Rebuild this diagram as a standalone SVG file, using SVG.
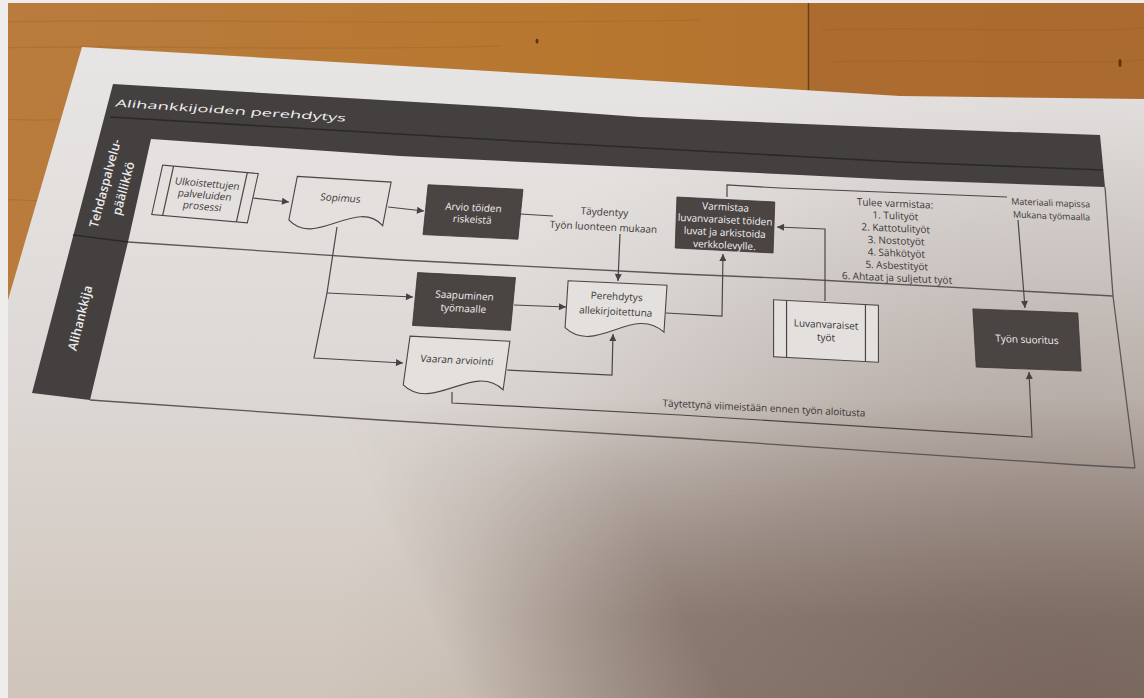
<svg xmlns="http://www.w3.org/2000/svg" width="1144" height="698" viewBox="0 0 1144 698">
<defs>
<linearGradient id="wood" x1="0" y1="0" x2="1" y2="0">
<stop offset="0" stop-color="#B97C3D"/>
<stop offset="0.5" stop-color="#B7772F"/>
<stop offset="1" stop-color="#AE6E31"/>
</linearGradient>
<linearGradient id="paper" gradientUnits="userSpaceOnUse" x1="0" y1="60" x2="0" y2="698">
<stop offset="0" stop-color="#E7E5E4"/>
<stop offset="0.5" stop-color="#DDD8D5"/>
<stop offset="1" stop-color="#CFC4BA"/>
</linearGradient>
<radialGradient id="shadow" gradientUnits="userSpaceOnUse" cx="1080" cy="760" r="760">
<stop offset="0" stop-color="#5A463D" stop-opacity="0.55"/>
<stop offset="0.5" stop-color="#6A564C" stop-opacity="0.3"/>
<stop offset="0.85" stop-color="#6E5A50" stop-opacity="0.05"/>
<stop offset="1" stop-color="#6E5A50" stop-opacity="0"/>
</radialGradient>
<linearGradient id="sh1" gradientUnits="userSpaceOnUse" x1="450" y1="660" x2="660" y2="560">
<stop offset="0" stop-color="#5E4A40" stop-opacity="0"/>
<stop offset="1" stop-color="#5E4A40" stop-opacity="0.5"/>
</linearGradient>
<linearGradient id="mkg" gradientUnits="userSpaceOnUse" x1="0" y1="400" x2="0" y2="620">
<stop offset="0" stop-color="#000"/>
<stop offset="1" stop-color="#fff"/>
</linearGradient>
<mask id="mk" maskUnits="userSpaceOnUse" x="0" y="0" width="1144" height="698">
<rect x="0" y="0" width="1144" height="698" fill="url(#mkg)"/>
</mask>
<marker id="ah" viewBox="0 0 10 10" refX="10" refY="5" markerWidth="8" markerHeight="7" orient="auto" markerUnits="userSpaceOnUse">
<path d="M0,0 L10,5 L0,10 Z" fill="#474242"/>
</marker>
<style>
.ln{fill:none;stroke:#4b4646;stroke-width:1.2}
.brd{fill:none;stroke:#5c5656;stroke-width:1.3}
.dk{fill:#4a4443;stroke:#3c3737;stroke-width:0.8}
.lt{fill:#E3E0DE;stroke:#4b4646;stroke-width:1.1}
.t{font-family:"Open Sans","Liberation Sans",sans-serif;font-size:10px;text-anchor:middle}
.tw{fill:#F3F1F1}
.tb{fill:#3b3636}
.lane{font-family:"Open Sans","Liberation Sans",sans-serif;font-size:12.5px;font-weight:600;fill:#EDEBEB;text-anchor:middle}
</style>
</defs>

<g id="background">
<rect x="0" y="0" width="1144" height="698" fill="url(#wood)"/>
<rect x="808" y="0" width="336" height="110" fill="#A9682E" opacity="0.6"/>
<line x1="808.5" y1="0" x2="808.5" y2="90" stroke="#6B3F18" stroke-width="1.5"/>
<g stroke="#8E5522" stroke-opacity="0.25" stroke-width="1.2" fill="none">
<path d="M0,22 C200,18 400,26 700,20"/>
<path d="M0,48 C150,44 300,52 500,46"/>
<path d="M820,30 C950,26 1050,34 1144,28"/>
<path d="M830,62 C950,58 1050,66 1144,60"/>
<path d="M0,120 C20,118 40,122 60,119"/>
<path d="M0,200 C10,198 25,202 40,200"/>
</g>
<ellipse cx="537" cy="41" rx="1.5" ry="2.5" fill="#5A3412"/>
<ellipse cx="1120" cy="63" rx="1.5" ry="4" fill="#5A3412"/>
<path d="M82,47 L640,80 L900,96 L1144,99 L1144,698 L8,698 L8,300 Z" fill="url(#paper)"/>
<path d="M82,47 L640,80 L900,96 L1144,99 L1144,698 L8,698 L8,300 Z" fill="url(#shadow)"/>
<rect x="8" y="380" width="1136" height="318" fill="url(#sh1)" mask="url(#mk)"/>
<rect x="0" y="0" width="8" height="698" fill="#EFEDEC"/>
<rect x="0" y="0" width="1144" height="3" fill="#EFEDEC"/>
</g>

<g id="lanes">
<path d="M113,84 L500,107 L640,117 L900,128 L1100,135 L1105,187 L900,180 L800,175 L400,156 L151,139 L128,242 L90,400 L32,393 Z" fill="#444040"/>
<path d="M110,117 L500,140 L900,162 L1103,170" fill="none" stroke="#2c2929" stroke-width="1.6"/>
<path d="M73,235 L128,242" fill="none" stroke="#2c2929" stroke-width="1.4"/>
<path class="brd" d="M128,242 L400,260 L680,274 L800,279 L1113,296"/>
<path class="brd" d="M1105,187 L1113,296 L1135,468"/>
<path class="brd" d="M90,400 L380,420 L680,438 L1080,465 L1135,468"/>
<text class="t" transform="translate(230,114) rotate(3.7) skewX(-10)" x="0" y="0" font-size="18.5" fill="#F2F0F0" textLength="231" lengthAdjust="spacingAndGlyphs">Alihankkijoiden perehdytys</text>
<g transform="translate(114.5,186) rotate(-75)">
<text class="lane" x="0" y="-5.5">Tehdaspalvelu-</text>
<text class="lane" x="0" y="13.5">päällikkö</text>
</g>
<text class="lane" transform="translate(80,318) rotate(-76)" x="0" y="4.5">Alihankkija</text>
</g>

<g id="connectors">
<path class="ln" d="M253,198 L289,202" marker-end="url(#ah)"/>
<path class="ln" d="M388,207 L424,211" marker-end="url(#ah)"/>
<path class="ln" d="M520,214 L553,216 M620,234 L618,281" marker-end="url(#ah)"/>
<path class="ln" d="M337,227 L327,293 L314,358 L403,363" marker-end="url(#ah)"/>
<path class="ln" d="M327,293 L413,297" marker-end="url(#ah)"/>
<path class="ln" d="M514,305 L566,307" marker-end="url(#ah)"/>
<path class="ln" d="M507,370 L612,375 L613,334" marker-end="url(#ah)"/>
<path class="ln" d="M666,313 L722,316 L723,254" marker-end="url(#ah)"/>
<path class="ln" d="M825,301 L825,229 L777,227" marker-end="url(#ah)"/>
<path class="ln" d="M727,197 L727,185 L780,188 L1007,197 M1018,220 L1025,308" marker-end="url(#ah)"/>
<path class="ln" d="M452,392 L452,403 L680,415 L1032,437 L1029,372" marker-end="url(#ah)"/>
<g class="t tb">
<text transform="translate(604,220) rotate(2.8) skewX(-1)"><tspan x="0" y="-4.5">Täydentyy</tspan><tspan x="0" y="10.5">Työn luonteen mukaan</tspan></text>
<text transform="translate(764,409) rotate(2.9) skewX(2)" x="0" y="2.5">Täytettynä viimeistään ennen työn aloitusta</text>
<text transform="translate(1051,209) rotate(2.2) skewX(6)" font-size="9"><tspan x="0" y="-3">Materiaali mapissa</tspan><tspan x="0" y="10">Mukana työmaalla</tspan></text>
</g>
</g>

<g id="n-tulee" class="t tb" transform="translate(896,241) rotate(2.5) skewX(4)" font-size="8.7">
<text><tspan x="0" y="-34">Tulee varmistaa:</tspan><tspan x="0" y="-21.6">1. Tulityöt</tspan><tspan x="0" y="-9.2">2. Kattotulityöt</tspan><tspan x="0" y="3.2">3. Nostotyöt</tspan><tspan x="0" y="15.6">4. Sähkötyöt</tspan><tspan x="0" y="28">5. Asbestityöt</tspan><tspan x="0" y="40.4">6. Ahtaat ja suljetut työt</tspan></text>
</g>

<g id="n-ulkoistettujen" transform="translate(205,194) rotate(5) skewX(-7.5)">
<rect class="lt" x="-48" y="-25" width="96" height="50"/>
<line class="ln" x1="-37" y1="-25" x2="-37" y2="25"/>
<line class="ln" x1="37" y1="-25" x2="37" y2="25"/>
<text class="t tb" font-size="9.5"><tspan x="0" y="-7">Ulkoistettujen</tspan><tspan x="0" y="4.5">palveluiden</tspan><tspan x="0" y="16">prosessi</tspan></text>
</g>

<g id="n-sopimus" transform="translate(340,201) rotate(3.5) skewX(-7.5)">
<path class="lt" d="M-47,-22 H47 V22 C16,-5 -16,49 -47,22 Z"/>
<text class="t tb" x="0" y="0.5">Sopimus</text>
</g>

<g id="n-arvio" transform="translate(473,212) rotate(2.8) skewX(-3)">
<rect class="dk" x="-47.5" y="-25" width="95" height="50"/>
<text class="t tw"><tspan x="0" y="-1">Arvio töiden</tspan><tspan x="0" y="11">riskeistä</tspan></text>
</g>

<g id="n-varmistaa" transform="translate(725,225) rotate(2.9) skewX(1)">
<rect class="dk" x="-49" y="-25.5" width="98" height="51"/>
<text class="t tw"><tspan x="0" y="-14.5">Varmistaa</tspan><tspan x="0" y="-1.8">luvanvaraiset töiden</tspan><tspan x="0" y="10.9">luvat ja arkistoida</tspan><tspan x="0" y="23.6">verkkolevylle.</tspan></text>
</g>

<g id="n-saapuminen" transform="translate(464,301.5) rotate(2.9) skewX(-2.6)">
<rect class="dk" x="-49" y="-26.5" width="98" height="53"/>
<text class="t tw"><tspan x="0" y="-2.5">Saapuminen</tspan><tspan x="0" y="10.5">työmaalle</tspan></text>
</g>

<g id="n-perehdytys" transform="translate(616,307) rotate(2.6) skewX(-1.1)">
<path class="lt" d="M-49.5,-24 H49.5 V23 C17,-4 -17,50 -49.5,23 Z"/>
<text class="t tb"><tspan x="0" y="-7">Perehdytys</tspan><tspan x="0" y="8">allekirjoitettuna</tspan></text>
</g>

<g id="n-vaaran" transform="translate(456.5,363.5) rotate(2.9) skewX(-5)">
<path class="lt" d="M-50,-25 H50 V24 C17,-3 -17,51 -50,24 Z"/>
<text class="t tb" x="0" y="0">Vaaran arviointi</text>
</g>

<g id="n-luvanvaraiset" transform="translate(826,331) rotate(3) skewX(3)">
<rect class="lt" x="-52.5" y="-28.5" width="105" height="57"/>
<line class="ln" x1="-39.5" y1="-28.5" x2="-39.5" y2="28.5"/>
<line class="ln" x1="39.5" y1="-28.5" x2="39.5" y2="28.5"/>
<text class="t tb"><tspan x="0" y="-3">Luvanvaraiset</tspan><tspan x="0" y="10">työt</tspan></text>
</g>

<g id="n-tyon-suoritus" transform="translate(1027,340) rotate(2.2) skewX(5.5)">
<rect class="dk" x="-52.5" y="-29" width="105" height="58"/>
<text class="t tw" x="0" y="3">Työn suoritus</text>
</g>
</svg>
